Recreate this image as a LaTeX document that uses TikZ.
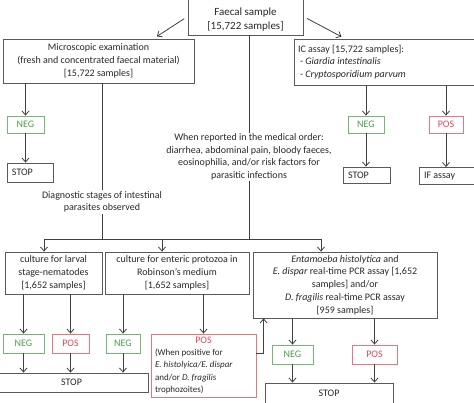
\documentclass[tikz,border=0pt]{standalone}
\usepackage{fontspec}
\setmainfont{Carlito}
\usepackage{xcolor}
\usetikzlibrary{arrows.meta,positioning}

\definecolor{boxgray}{RGB}{90,90,90}
\definecolor{txtgray}{RGB}{40,40,40}
\definecolor{neggreen}{RGB}{70,160,70}
\definecolor{posred}{RGB}{228,70,85}

\begin{document}
\begin{tikzpicture}[x=1pt, y=-1pt,
    box/.style={draw=boxgray, line width=0.8pt, text=txtgray, align=center, inner sep=2pt, font=\fontsize{10}{12.8}\selectfont},
    negbox/.style={box, draw=neggreen!75, text=neggreen},
    posbox/.style={box, draw=posred!75, text=posred},
    plain/.style={text=txtgray, align=center, inner sep=1pt, font=\fontsize{10}{12.6}\selectfont},
    arr/.style={draw=black!75, line width=0.8pt, -{Straight Barb[length=4pt,width=7pt]}},
    link/.style={draw=black!75, line width=0.8pt}]
    \useasboundingbox (0,0) rectangle (474,403);

    % Sample and the two first tests
    \node[box, minimum width=115pt, minimum height=37pt, font=\fontsize{11}{14}\selectfont] (faecal) at (245.5,16.5) {\rule{0pt}{13pt}Faecal sample\\ {[15,722 samples]}};
    \node[box, minimum width=191pt, minimum height=44pt] (micro) at (98.5,61) {Microscopic examination\\(fresh and concentrated faecal material)\\ {[15,722 samples]}};
    \node[box, align=flush left, text width=174pt, inner xsep=4pt, minimum height=46pt] (ic) at (385,62) {IC assay [15,722 samples]:\\\hspace*{2pt}- \textit{Giardia intestinalis}\\\hspace*{2pt}- \textit{Cryptosporidium parvum}};
    \draw[arr, shorten <=4pt, shorten >=4pt] (faecal.west) -- ([xshift=55pt]micro.north);
    \draw[arr, shorten <=4pt, shorten >=4pt] (faecal.east) -- ([xshift=-40pt]ic.north);

    % Microscopy negative
    \node[negbox, minimum width=37pt, minimum height=17pt] (neg1) at (25.5,124.5) {NEG};
    \node[box, align=flush left, text width=36pt, inner xsep=5pt, minimum height=19pt] (stop1) at (30,172.5) {STOP};
    \draw[arr] (neg1.north |- micro.south) -- (neg1.north);
    \draw[arr] (neg1.south) -- (neg1.south |- stop1.north);

    % IC results
    \node[negbox, minimum width=36pt, minimum height=17pt] (icneg) at (366,124.5) {NEG};
    \node[posbox, minimum width=34pt, minimum height=17pt] (icpos) at (446,124.5) {POS};
    \node[box, align=flush left, text width=37pt, inner xsep=5pt, minimum height=16pt] (icstop) at (366.5,175) {STOP};
    \node[box, align=flush left, text width=54pt, inner xsep=5pt, minimum height=17pt] (ifassay) at (451,176) {IF assay};
    \draw[arr] (icneg.north |- ic.south) -- (icneg.north);
    \draw[arr] (icpos.north |- ic.south) -- (icpos.north);
    \draw[arr] (icneg.south) -- (icneg.south |- icstop.north);
    \draw[arr] (icpos.south) -- (icpos.south |- ifassay.north);

    % Branch conditions
    \node[plain] (reported) at (249,157) {When reported in the medical order:\\diarrhea, abdominal pain, bloody faeces,\\eosinophilia, and/or risk factors for\\parasitic infections};
    \node[plain] (diag) at (102,202) {Diagnostic stages of intestinal\\parasites observed};
    \coordinate (hl) at (44,239);
    \coordinate (hm) at (162,239);
    \coordinate (hr) at (321,239);
    \draw[link] (diag.north |- micro.south) -- (diag.north);
    \draw[link] (diag.south) -- (diag.south |- hl);
    \draw[link] (reported.north |- faecal.south) -- (reported.north);
    \draw[link] (reported.south) -- (reported.south |- hl);
    \draw[link] (hl) -- (hr);

    % Second line tests
    \node[box, minimum width=97pt, minimum height=42pt] (larval) at (53.5,273) {culture for larval\\stage-nematodes\\ {[1,652 samples]}};
    \node[box, minimum width=144pt, minimum height=42pt] (protozoa) at (177,273) {culture for enteric protozoa in\\Robinson's medium\\ {[1,652 samples]}};
    \node[box, minimum width=184pt, minimum height=66pt] (pcr) at (345,285) {\textit{Entamoeba histolytica} and\\\textit{E. dispar} real-time PCR assay [1,652\\samples] and/or\\\textit{D. fragilis} real-time PCR assay\\ {[959 samples]}};
    \draw[arr] (hl) -- (hl |- larval.north);
    \draw[arr] (hm) -- (hm |- protozoa.north);
    \draw[arr] (hr) -- (hr |- pcr.north);

    % Culture results
    \node[negbox, minimum width=41pt, minimum height=19pt] (neg2) at (23.5,343.5) {NEG};
    \node[posbox, minimum width=37pt, minimum height=19pt] (pos2) at (70.5,343.5) {POS};
    \node[negbox, minimum width=34pt, minimum height=19pt] (neg3) at (123,343.5) {NEG};
    \node[box, draw=posred!75, align=flush left, text width=97pt, inner xsep=4pt, minimum height=63pt] (posbig) at (203.5,365.5) {\makebox[97pt]{\textcolor{posred}{POS}}\\\fontsize{9}{12.3}\selectfont(When positive for\\\textit{E. histolyica/E. dispar}\\and/or \textit{D. fragilis}\\trophozoites)};
    \node[box, minimum width=153pt, minimum height=19pt] (stop2) at (71.5,382.5) {STOP};
    \draw[arr] (neg2.north |- larval.south) -- (neg2.north);
    \draw[arr] (pos2.north |- larval.south) -- (pos2.north);
    \draw[arr] (neg3.north |- protozoa.south) -- (neg3.north);
    \draw[arr] (posbig.north |- protozoa.south) -- (posbig.north);
    \draw[arr] (neg2.south) -- (neg2.south |- stop2.north);
    \draw[arr] (pos2.south) -- (pos2.south |- stop2.north);
    \draw[arr] (neg3.south) -- (neg3.south |- stop2.north);
    \draw[arr] ([yshift=12pt]posbig.east) -| ([xshift=11pt]pcr.south west);

    % PCR results
    \node[negbox, minimum width=41pt, minimum height=19pt] (pcrneg) at (292.5,354.5) {NEG};
    \node[posbox, minimum width=45pt, minimum height=19pt] (pcrpos) at (374.5,354.5) {POS};
    \node[box, minimum width=128pt, minimum height=30pt] (pcrstop) at (329,398) {STOP\rule[-10pt]{0pt}{1pt}};
    \draw[arr] (pcrneg.north |- pcr.south) -- (pcrneg.north);
    \draw[arr] (pcrpos.north |- pcr.south) -- (pcrpos.north);
    \draw[arr] (pcrneg.south) -- (pcrneg.south |- pcrstop.north);
    \draw[arr] (pcrpos.south) -- (pcrpos.south |- pcrstop.north);
\end{tikzpicture}
\end{document}
